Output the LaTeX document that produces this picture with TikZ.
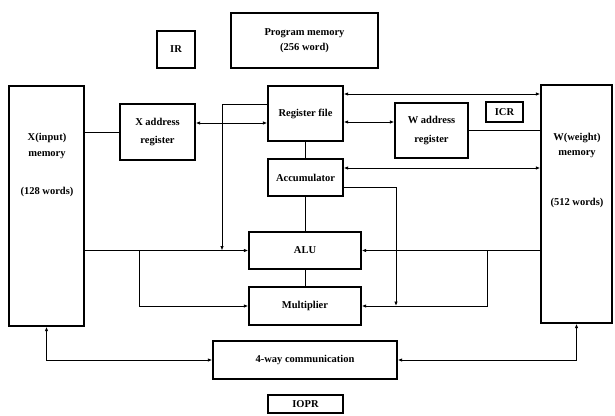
\documentclass[tikz,border=0pt]{standalone}
\usepackage{fontspec}
\setmainfont{Liberation Serif}
\usetikzlibrary{arrows.meta}
\begin{document}
\begin{tikzpicture}[x=1pt,y=-1pt,
  box/.style={draw, line width=1.3pt, inner sep=0pt, align=center,
    font=\bfseries\fontsize{10.5}{12.5}\selectfont},
  txt/.style={inner sep=0pt, align=center, font=\bfseries\fontsize{10.5}{12.5}\selectfont},
  conn/.style={line width=0.9pt},
  tip/.tip={Latex[length=4.5pt,width=3.5pt]}]
\useasboundingbox (0,0) rectangle (615,415);
% boxes
\node[box, minimum width=38pt, minimum height=37pt] (ir) at (176,49.5) {IR};
\node[box, minimum width=147pt, minimum height=55pt] (prog) at (304.5,40.5) {Program memory\\[2pt](256 word)};
\node[box, minimum width=75pt, minimum height=240pt] (xmem) at (46.5,206) {};
\node[txt] (xmemt) at (47,146) {X(input)\\[3pt]memory};
\node[txt] (xmemw) at (47,192) {(128 words)};
\node[box, minimum width=75pt, minimum height=56pt] (xar) at (157.5,132) {X address\\[6pt]register};
\node[box, minimum width=75pt, minimum height=55pt] (rf) at (305.5,113.5) {Register file};
\node[box, minimum width=75pt, minimum height=37pt] (acc) at (305.5,177.5) {Accumulator};
\node[box, minimum width=112pt, minimum height=37pt] (alu) at (305,250.5) {ALU};
\node[box, minimum width=112pt, minimum height=38pt] (mul) at (305,306) {Multiplier};
\node[box, minimum width=184pt, minimum height=38pt] (comm) at (305,360) {4-way communication};
\node[box, minimum width=75pt, minimum height=18pt] (iopr) at (305.5,404) {IOPR};
\node[box, minimum width=73pt, minimum height=55pt] (war) at (431.5,130.5) {W address\\[6pt]register};
\node[box, minimum width=37pt, minimum height=20pt] (icr) at (504.5,112) {ICR};
\node[box, minimum width=71pt, minimum height=238pt] (wmem) at (576.5,204) {};
\node[txt] (wmemt) at (577,145.5) {W(weight)\\[3pt]memory};
\node[txt] (wmemw) at (577,203) {(512 words)};
% junction coordinates
\coordinate (j1) at (222,250.5);
\coordinate (jb) at (139,250.5);
\coordinate (j2) at (396,306);
\coordinate (jc) at (487,250.5);
% connectors
\draw[conn] (xmem.east |- xar.west) -- (xar.west);
\draw[conn, tip-tip] (xar.east |- 0,123) -- (rf.west |- 0,123);
\draw[conn, -tip] (rf.west |- 0,104) -| (j1);
\draw[conn, -tip] (xmem.east |- alu.west) -- (alu.west);
\draw[conn, -tip] (jb) |- (mul.west);
\draw[conn, tip-tip] (rf.east |- 0,94) -- (wmem.west |- 0,94);
\draw[conn, tip-tip] (rf.east |- 0,122) -- (war.west |- 0,122);
\draw[conn] (war.east) -- (wmem.west |- war.east);
\draw[conn, tip-tip] (wmem.west |- 0,168) -- (acc.east |- 0,168);
\draw[conn, -tip] (acc.east |- 0,187) -| (j2);
\draw[conn, -tip] (wmem.west |- alu.east) -- (alu.east);
\draw[conn, -tip] (jc) |- (mul.east);
\draw[conn] (rf.south) -- (acc.north);
\draw[conn] (acc.south) -- (acc.south |- alu.north);
\draw[conn] (alu.south) -- (mul.north);
\draw[conn, tip-tip] (comm.west) -| (xmem.south);
\draw[conn, tip-tip] (comm.east) -| (wmem.south);
\end{tikzpicture}
\end{document}
